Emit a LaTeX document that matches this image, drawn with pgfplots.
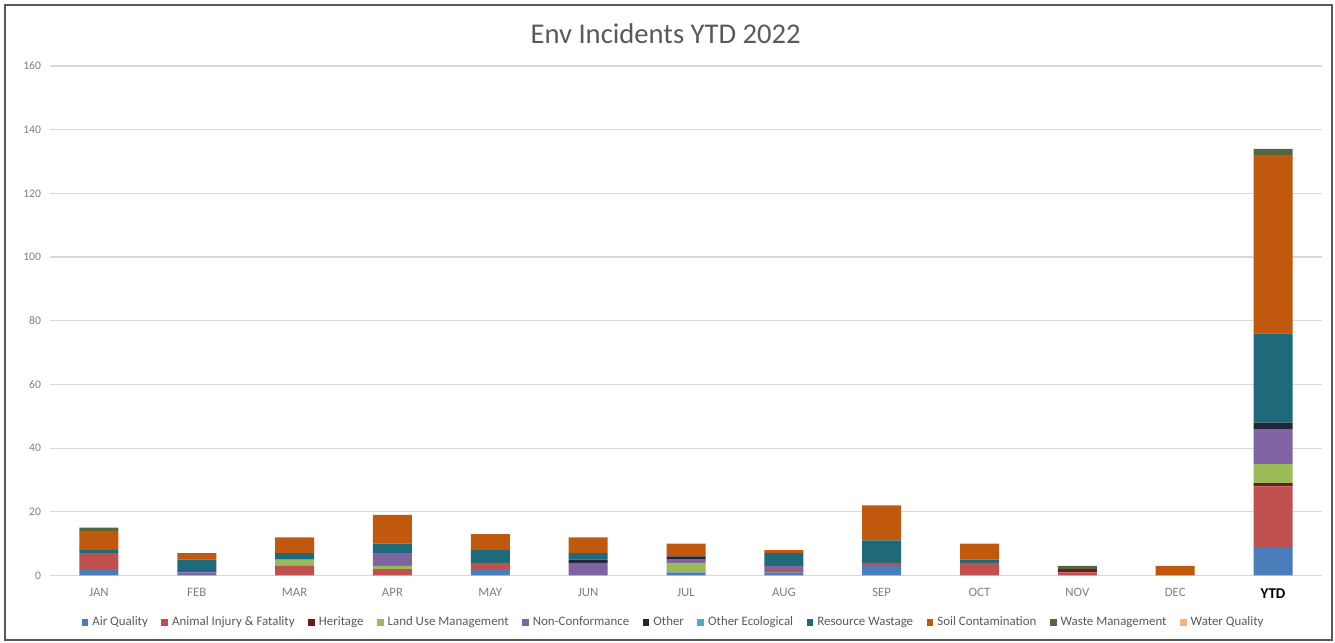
\documentclass[border=0pt]{standalone}
\usepackage{pgfplots}
\pgfplotsset{compat=1.18}
\usepackage{pgfplotstable}
\usepackage{fontspec}
\setmainfont{Carlito}

\definecolor{cAir}{HTML}{4A7EBB}
\definecolor{cAnimal}{HTML}{C0504D}
\definecolor{cHeritage}{HTML}{6E1A1A}
\definecolor{cLand}{HTML}{9BBB59}
\definecolor{cNonConf}{HTML}{8064A2}
\definecolor{cOther}{HTML}{24243C}
\definecolor{cOtherEco}{HTML}{4BACC6}
\definecolor{cResource}{HTML}{1F6A7A}
\definecolor{cSoil}{HTML}{C0580E}
\definecolor{cWaste}{HTML}{56663F}
\definecolor{cWater}{HTML}{F4B183}
\definecolor{cGrid}{HTML}{D9D9D9}
\definecolor{cTick}{HTML}{7F7F7F}
\definecolor{cTitle}{HTML}{595959}

% Incident counts per month and year to date, one column per category
\pgfplotstableread{
x air animal heritage land noncon other othereco resource soil waste water
0  2  5 0 0  0 0 0  1  6 1 0
1  0  0 0 0  1 0 0  4  2 0 0
2  0  3 0 2  0 0 0  2  5 0 0
3  0  2 0 1  4 0 0  3  9 0 0
4  2  2 0 0  0 0 0  4  5 0 0
5  0  0 0 0  4 1 0  2  5 0 0
6  1  0 0 3  1 1 0  0  4 0 0
7  1  1 0 0  1 0 0  4  1 0 0
8  3  1 0 0  0 0 0  7 11 0 0
9  0  4 0 0  0 0 0  1  5 0 0
10 0  1 1 0  0 0 0  0  0 1 0
11 0  0 0 0  0 0 0  0  3 0 0
12 9 19 1 6 11 2 0 28 56 2 0
}\incidents

\begin{document}
\begin{tikzpicture}
\useasboundingbox (0,0) rectangle (667.5pt,321.5pt);
\draw[line width=1.2pt, black!65] (2.5pt,1.5pt) rectangle (666pt,319pt);
\begin{axis}[
  at={(25pt,33.75pt)}, anchor=south west,
  scale only axis,
  width=636pt, height=254.75pt,
  ybar stacked,
  bar width=19.5pt,
  xmin=-0.5, xmax=12.5,
  ymin=0, ymax=160,
  ytick={0,20,...,160},
  xtick=data,
  xticklabels={JAN,FEB,MAR,APR,MAY,JUN,JUL,AUG,SEP,OCT,NOV,DEC,{\fontsize{7.5}{9}\selectfont\bfseries\color{black}YTD}},
  axis line style={draw=none},
  major tick length=0pt,
  ymajorgrids,
  grid style={cGrid, line width=0.6pt},
  /pgf/number format/assume math mode=true,
  yticklabel style={font=\fontsize{5.8}{6}\selectfont, text=cTick, xshift=-1pt},
  xticklabel style={font=\fontsize{6.4}{7}\selectfont, text=cTick, yshift=-3pt},
  title={Env Incidents YTD 2022},
  title style={font=\fontsize{14.3}{17}\selectfont, text=cTitle, at={(0.484,1)}, anchor=center, yshift=10pt},
  legend style={at={(0.491,-0.093)}, anchor=center, draw=none, fill=none,
    font=\fontsize{6.45}{7}\selectfont, text=cTitle,
    legend columns=11, /tikz/every even column/.append style={column sep=4.7pt}},
  legend cell align=left,
  legend image code/.code={\fill[#1] (0pt,-1.7pt) rectangle (3.4pt,1.7pt);},
  every axis plot/.append style={draw=none},
]
\addplot[fill=cAir] table[x=x,y=air] {\incidents};
\addlegendentry{Air Quality}
\addplot[fill=cAnimal] table[x=x,y=animal] {\incidents};
\addlegendentry{Animal Injury \& Fatality}
\addplot[fill=cHeritage] table[x=x,y=heritage] {\incidents};
\addlegendentry{Heritage}
\addplot[fill=cLand] table[x=x,y=land] {\incidents};
\addlegendentry{Land Use Management}
\addplot[fill=cNonConf] table[x=x,y=noncon] {\incidents};
\addlegendentry{Non-Conformance}
\addplot[fill=cOther] table[x=x,y=other] {\incidents};
\addlegendentry{Other}
\addplot[fill=cOtherEco] table[x=x,y=othereco] {\incidents};
\addlegendentry{Other Ecological}
\addplot[fill=cResource] table[x=x,y=resource] {\incidents};
\addlegendentry{Resource Wastage}
\addplot[fill=cSoil] table[x=x,y=soil] {\incidents};
\addlegendentry{Soil Contamination}
\addplot[fill=cWaste] table[x=x,y=waste] {\incidents};
\addlegendentry{Waste Management}
\addplot[fill=cWater] table[x=x,y=water] {\incidents};
\addlegendentry{Water Quality}
\end{axis}
\end{tikzpicture}
\end{document}
